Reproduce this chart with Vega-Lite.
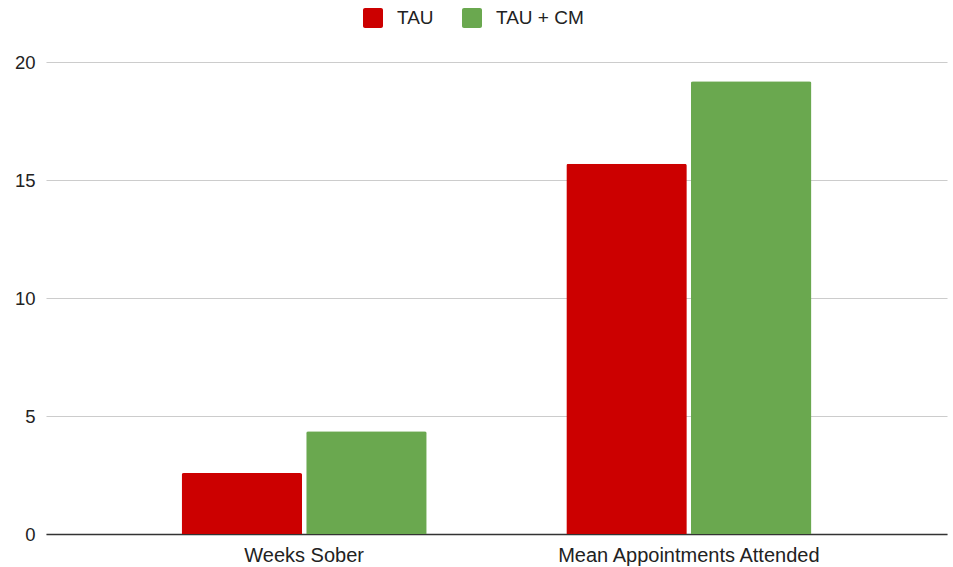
{
  "$schema": "https://vega.github.io/schema/vega-lite/v6.json",
  "autosize": {"type": "none"},
  "width": 901,
  "height": 472,
  "padding": {"left": 46, "top": 62, "right": 6, "bottom": 33},
  "background": "white",
  "data": {
    "values": [
      {"measure": "Weeks Sober", "group": "TAU", "value": 2.58},
      {"measure": "Weeks Sober", "group": "TAU + CM", "value": 4.35},
      {"measure": "Mean Appointments Attended", "group": "TAU", "value": 15.69},
      {"measure": "Mean Appointments Attended", "group": "TAU + CM", "value": 19.18}
    ]
  },
  "config": {
    "view": {"stroke": null},
    "font": "Liberation Sans",
    "axis": {"labelFont": "Liberation Sans", "labelColor": "#222222", "titleFont": "Liberation Sans"},
    "legend": {"labelFont": "Liberation Sans"}
  },
  "layer": [
    {
      "mark": {"type": "bar", "cornerRadiusTopLeft": 2, "cornerRadiusTopRight": 2},
      "encoding": {
        "x": {
          "field": "measure",
          "type": "nominal",
          "sort": ["Weeks Sober", "Mean Appointments Attended"],
          "scale": {"paddingInner": 0.363, "paddingOuter": 0.3525},
          "axis": {
            "title": null,
            "labelAngle": 0,
            "labelFontSize": 20,
            "labelLimit": 0,
            "labelPadding": 11,
            "ticks": false,
            "domain": true,
            "domainColor": "#333333",
            "domainWidth": 1.3,
            "grid": false
          }
        },
        "xOffset": {
          "field": "group",
          "type": "nominal",
          "sort": ["TAU", "TAU + CM"],
          "scale": {"paddingInner": 0.033, "paddingOuter": 0}
        },
        "y": {
          "field": "value",
          "type": "quantitative",
          "scale": {"domain": [0, 20], "nice": false},
          "axis": {
            "title": null,
            "values": [0, 5, 10, 15, 20],
            "labelFontSize": 18.5,
            "labelPadding": 11,
            "ticks": false,
            "domain": false,
            "gridColor": "#cccccc",
            "gridWidth": 1.2
          }
        },
        "color": {
          "field": "group",
          "type": "nominal",
          "scale": {"domain": ["TAU", "TAU + CM"], "range": ["#cc0000", "#6aa84f"]},
          "legend": {
            "title": null,
            "orient": "none",
            "direction": "horizontal",
            "legendX": 317,
            "legendY": -54,
            "padding": 0,
            "symbolType": "M-1,-0.8A0.2,0.2 0 0 1 -0.8,-1H0.8A0.2,0.2 0 0 1 1,-0.8V0.8A0.2,0.2 0 0 1 0.8,1H-0.8A0.2,0.2 0 0 1 -1,0.8Z",
            "symbolSize": 400,
            "symbolStrokeWidth": 0,
            "symbolOpacity": 1,
            "labelFontSize": 19,
            "labelLimit": 0,
            "labelColor": "#222222",
            "labelOffset": 14,
            "columnPadding": 28
          }
        }
      }
    }
  ]
}
